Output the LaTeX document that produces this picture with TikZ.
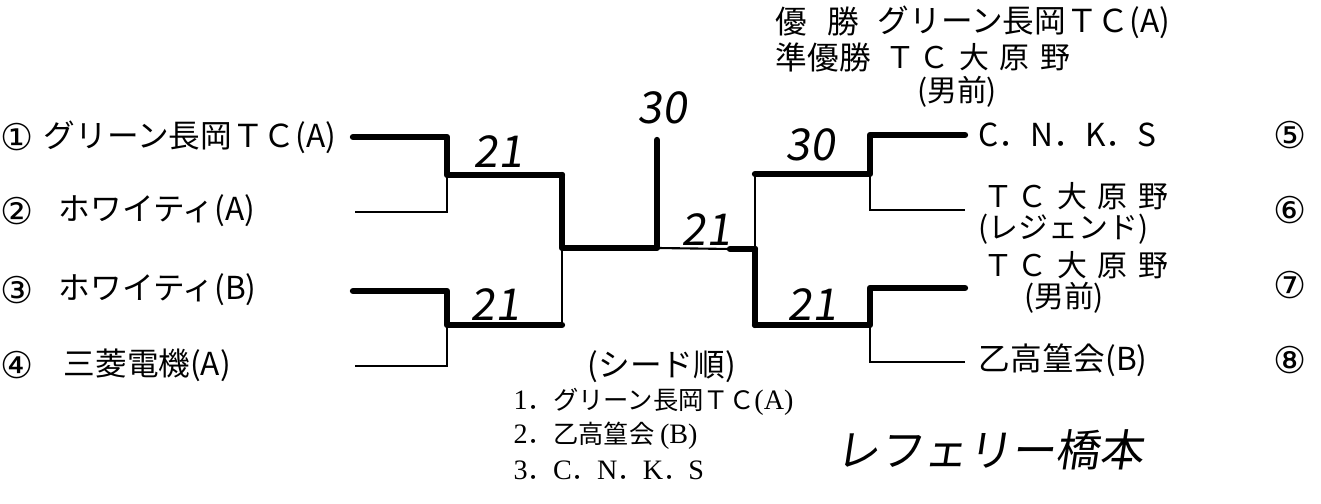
\documentclass[tikz,border=0pt]{standalone}
\usepackage{fontspec}
\setmainfont{Noto Sans CJK JP}
\newfontfamily\handfont[FakeSlant=0.15]{Noto Sans CJK JP}
\newfontfamily\circfont{DejaVu Sans}
\newfontfamily\latinserif{Liberation Serif}
\newcommand{\tcooharano}{Ｔ\hspace{1pt}Ｃ\hspace{3pt}大\hspace{3pt}原\hspace{3pt}野}
\begin{document}
\begin{tikzpicture}[x=0.01cm,y=-0.01cm,
  txt/.style={inner sep=0pt,anchor=west,font=\fontsize{9}{11}\selectfont},
  txtc/.style={inner sep=0pt,anchor=center,font=\fontsize{9}{11}\selectfont},
  rtxt/.style={inner sep=0pt,anchor=west,font=\fontsize{8.5}{10}\selectfont},
  rtxtc/.style={inner sep=0pt,anchor=center,font=\fontsize{8.5}{10}\selectfont},
  circnum/.style={inner sep=0pt,anchor=center,font=\circfont\fontsize{10.5}{12}\selectfont},
  seedtxt/.style={inner sep=0pt,anchor=west,font=\fontsize{7.2}{9}\selectfont},
  handnum/.style={inner sep=0pt,anchor=center,font=\handfont\fontsize{12.5}{14}\selectfont},
  win/.style={line width=1.8pt,line cap=round,line join=round},
  lose/.style={line width=0.6pt,line join=miter}]
\useasboundingbox (0,0) rectangle (1321,504);

% ---------- header ----------
\node[txt] (wlab1) at (775,22) {優};
\node[txt,anchor=east] (wlab2) at (860,22) {勝};
\node[txt] (wteam) at (877,22) {グリーン長岡ＴＣ(A)};
\node[txt] (rlab) at (775,57) {準優勝};
\node[rtxt] (rteam) at (885,57) {\tcooharano};
\node[rtxtc] (rsub) at (957,92) {(男前)};

% ---------- left teams ----------
\node[circnum] (c1) at (17,137) {①};
\node[txt] (t1) at (43,137) {グリーン長岡ＴＣ(A)};
\node[circnum] (c2) at (17,211) {②};
\node[txt] (t2) at (58,211) {ホワイティ(A)};
\node[circnum] (c3) at (17,290) {③};
\node[txt] (t3) at (58,290) {ホワイティ(B)};
\node[circnum] (c4) at (17,365) {④};
\node[txt] (t4) at (63,365) {三菱電機(A)};

% ---------- right teams ----------
\node[txt] (t5) at (978,135) {C．N．K．S};
\node[circnum] (c5) at (1290,135) {⑤};
\node[rtxt] (t6a) at (983,196) {\tcooharano};
\node[rtxt] (t6b) at (978,229) {(レジェンド)};
\node[circnum] (c6) at (1290,210) {⑥};
\node[rtxt] (t7a) at (983,265) {\tcooharano};
\node[rtxtc] (t7b) at (1064,298) {(男前)};
\node[circnum] (c7) at (1290,285) {⑦};
\node[txt] (t8) at (978,360) {乙高篁会(B)};
\node[circnum] (c8) at (1290,360) {⑧};

% ---------- bracket coordinates ----------
\coordinate (a1) at (353,137); \coordinate (b1) at (447,137);
\coordinate (a2) at (355,212); \coordinate (b2) at (447,212);
\coordinate (a3) at (353,291); \coordinate (b3) at (447,291);
\coordinate (a4) at (355,366); \coordinate (b4) at (447,366);
\coordinate (j1) at (447,175); \coordinate (k1) at (562,175);
\coordinate (j2) at (447,325); \coordinate (k2) at (562,325);
\coordinate (m1) at (562,248); \coordinate (f1) at (657,248);
\coordinate (top) at (657,140);
\coordinate (f2) at (730,249); \coordinate (m2) at (755,249);
\coordinate (k3) at (755,174); \coordinate (j3) at (870,174);
\coordinate (k4) at (755,325); \coordinate (j4) at (870,325);
\coordinate (b5) at (870,135); \coordinate (a5) at (965,135);
\coordinate (b6) at (870,210); \coordinate (a6) at (965,210);
\coordinate (b7) at (870,288); \coordinate (a7) at (965,288);
\coordinate (b8) at (870,362); \coordinate (a8) at (965,362);

% left first round
\draw[win] (a1) -- (b1) -- (j1) -- (k1);
\draw[lose] (a2) -- (b2) -- (j1);
\draw[win] (a3) -- (b3) -- (j2) -- (k2);
\draw[lose] (a4) -- (b4) -- (j2);
% left semi
\draw[win] (k1) -- (m1) -- (f1) -- (top);
\draw[lose] (k2) -- (m1);
% final
\draw[lose] (f1) -- (f2);
\draw[win] (f2) -- (m2);
% right semi
\draw[lose] (k3) -- (m2);
\draw[win] (m2) -- (k4);
% right first round
\draw[win] (a5) -- (b5) -- (j3) -- (k3);
\draw[lose] (a6) -- (b6) -- (j3);
\draw[win] (a7) -- (b7) -- (j4) -- (k4);
\draw[lose] (a8) -- (b8) -- (j4);

% ---------- handwritten scores ----------
\node[handnum] (s30a) at (662,108) {30};
\node[handnum] (s21a) at (498,152) {21};
\node[handnum] (s21b) at (495,305) {21};
\node[handnum] (s21c) at (706,230) {21};
\node[handnum] (s30b) at (810,145) {30};
\node[handnum] (s21d) at (812,305) {21};

% ---------- seed list ----------
\node[txt] (seedh) at (587,367) {(シード順)};
\node[seedtxt] (seed1) at (513,402) {{\latinserif\fontsize{8}{9}\selectfont 1}．グリーン長岡ＴＣ{\latinserif\fontsize{8}{9}\selectfont (A)}};
\node[seedtxt] (seed2) at (513,436) {{\latinserif\fontsize{8}{9}\selectfont 2}．乙高篁会\ {\latinserif\fontsize{8}{9}\selectfont (B)}};
\node[seedtxt] (seed3) at (513,470) {{\latinserif\fontsize{8}{9}\selectfont 3}．{\latinserif\fontsize{8}{9}\selectfont C}．{\latinserif\fontsize{8}{9}\selectfont N}．{\latinserif\fontsize{8}{9}\selectfont K}．{\latinserif\fontsize{8}{9}\selectfont S}};

% ---------- referee ----------
\node[inner sep=0pt,anchor=west,font=\handfont\fontsize{12.5}{14}\selectfont] (ref) at (835,450) {レフェリー橋本};
\end{tikzpicture}
\end{document}
